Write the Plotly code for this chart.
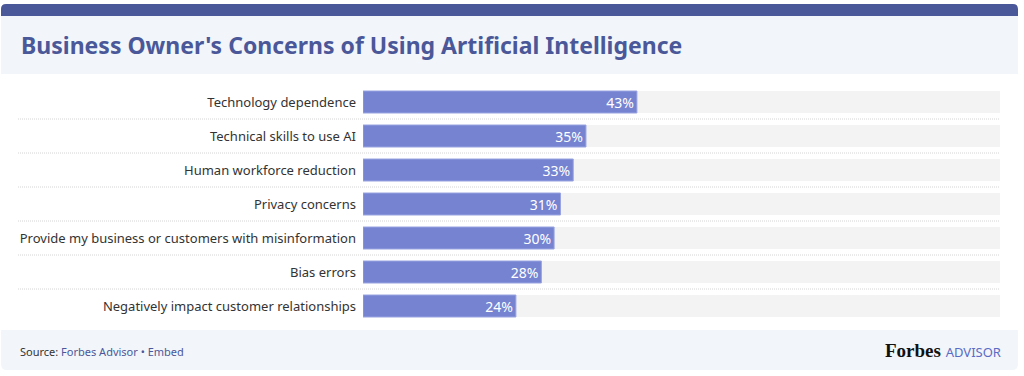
import plotly.graph_objects as go

categories = [
    "Technology dependence",
    "Technical skills to use AI",
    "Human workforce reduction",
    "Privacy concerns",
    "Provide my business or customers with misinformation",
    "Bias errors",
    "Negatively impact customer relationships",
]
values = [43, 35, 33, 31, 30, 28, 24]
track = [100] * len(categories)
labels = [f"{v}%" for v in values]

W, H = 1024, 376
FONT = "Noto Sans"
BLUE_DARK = "#4a5899"
BAR = "#7583d1"
PANEL = "#f2f5fa"

def px(x):
    return x / W

def py(y):
    return 1 - y / H

fig = go.Figure()
fig.add_trace(go.Bar(
    y=categories, x=track, orientation="h",
    marker=dict(color="#f3f3f3", line=dict(width=0)),
    hoverinfo="skip", showlegend=False,
))
fig.add_trace(go.Bar(
    y=categories, x=values, orientation="h",
    marker=dict(color=BAR, line=dict(width=1, color="#9aa4e0")),
    text=labels, textposition="inside", insidetextanchor="end",
    textfont=dict(color="white", size=14, family=FONT),
    showlegend=False,
))

shapes = []
# top dark strip
shapes.append(dict(type="path", xref="paper", yref="paper",
    path=f"M {px(1)},{py(16)} L {px(1)},{py(9)} Q {px(1)},{py(4)} {px(6)},{py(4)} L {px(1013)},{py(4)} Q {px(1018)},{py(4)} {px(1018)},{py(9)} L {px(1018)},{py(16)} Z",
    fillcolor=BLUE_DARK, line=dict(width=0), layer="below"))
# title panel
shapes.append(dict(type="rect", xref="paper", yref="paper",
    x0=px(1), x1=px(1018), y0=py(74), y1=py(16),
    fillcolor=PANEL, line=dict(width=0), layer="below"))
# footer panel
shapes.append(dict(type="path", xref="paper", yref="paper",
    path=f"M {px(1)},{py(330)} L {px(1018)},{py(330)} L {px(1018)},{py(364)} Q {px(1018)},{py(370)} {px(1012)},{py(370)} L {px(7)},{py(370)} Q {px(1)},{py(370)} {px(1)},{py(364)} Z",
    fillcolor=PANEL, line=dict(width=0), layer="below"))
# dotted separators
for i in range(len(categories) - 1):
    shapes.append(dict(type="line", xref="paper", yref="y",
        x0=px(18), x1=px(1000), y0=i + 0.5, y1=i + 0.5,
        line=dict(color="#d4d4d4", width=1, dash="1px,1px"), layer="below"))

annotations = [
    dict(text="<b>Business Owner's Concerns of Using Artificial Intelligence</b>",
         xref="paper", yref="paper", x=px(19), y=py(45), xanchor="left", yanchor="middle",
         showarrow=False, font=dict(family=FONT, size=23, color=BLUE_DARK)),
    dict(text="<span style='color:#333333'>Source: </span>Forbes Advisor • Embed",
         xref="paper", yref="paper", x=px(18), y=py(351), xanchor="left", yanchor="middle",
         showarrow=False, font=dict(family=FONT, size=11, color="#4a5899")),
    dict(text="<b>Forbes</b> <span style='font-family:Noto Sans;font-size:13px;color:#5a6bc4'>ADVISOR</span>",
         xref="paper", yref="paper", x=px(1003), y=py(350), xanchor="right", yanchor="middle",
         showarrow=False, font=dict(family="Liberation Serif", size=19, color="#111111")),
]

fig.update_layout(
    width=W, height=H,
    margin=dict(l=0, r=0, t=0, b=0),
    paper_bgcolor="white", plot_bgcolor="rgba(0,0,0,0)",
    barmode="overlay", bargap=12 / 34,
    shapes=shapes, annotations=annotations,
    xaxis=dict(domain=[px(363), px(1000)], range=[0, 100], visible=False, fixedrange=True),
    yaxis=dict(domain=[py(323), py(85)], autorange="reversed", showgrid=False,
               zeroline=False, showline=False, ticks="", ticklabelstandoff=6,
               tickfont=dict(family=FONT, size=13, color="#333333"), fixedrange=True),
    font=dict(family=FONT),
    uniformtext=dict(mode="show", minsize=13),
)

fig.write_html("out.html", config={"displayModeBar": False},
               post_script="document.body.style.margin='0';document.body.style.overflow='hidden';")
